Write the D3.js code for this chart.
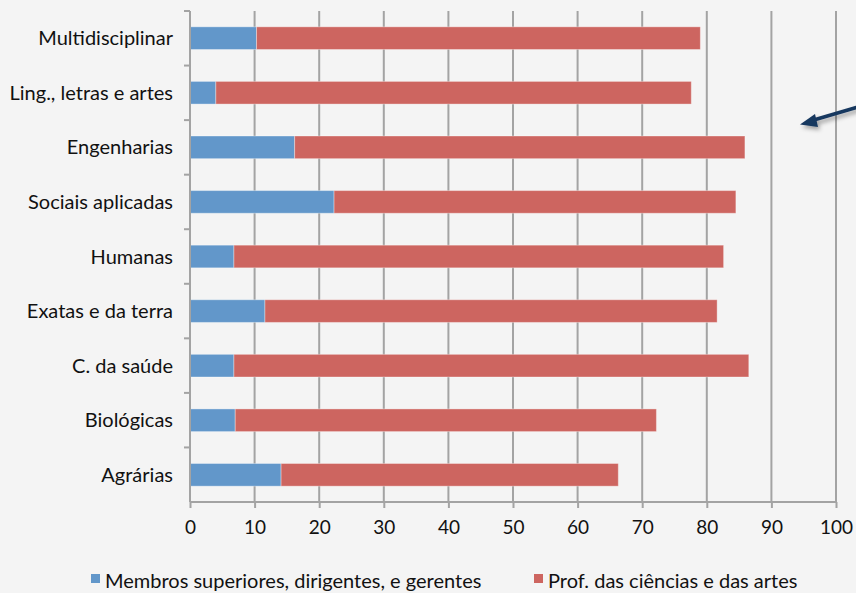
<html>
<meta charset="utf-8">
<script src="https://cdn.jsdelivr.net/npm/d3@7"></script>
<style>
body{ margin:0; background:#f4f4f4; }
.grid line{ stroke:#a3a3a3; stroke-width:2; }
.axis text{ font: 19px Lato, sans-serif; fill:#111; }
.axis text.cat{ font-size: 20px; }
.legend text{ font: 20px Lato, sans-serif; fill:#111; }
</style>
<body>
<div id="chart"></div>
<script>
var categories = ["Multidisciplinar","Ling., letras e artes","Engenharias","Sociais aplicadas","Humanas","Exatas e da terra","C. da saúde","Biológicas","Agrárias"];
var membros = [10.3, 4.0, 16.2, 22.3, 6.8, 11.6, 6.8, 7.0, 14.1];
var profs   = [68.7, 73.6, 69.7, 62.2, 75.8, 70.0, 79.7, 65.2, 52.2];
var seriesNames = ["Membros superiores, dirigentes, e gerentes","Prof. das ciências e das artes"];
var seriesCols = ["#6297ca","#cd6560"];
var xTicks = [0,10,20,30,40,50,60,70,80,90,100];

var W = 856, H = 593;
var m = {left:190, right:20, top:11, bottom:91};

var svg = d3.select("#chart").append("svg").attr("width",W).attr("height",H);

var x = d3.scaleLinear().domain([0,100]).range([m.left, W-m.right]);
var y = d3.scaleBand().domain(categories).range([m.top, H-m.bottom]).paddingInner(0.585).paddingOuter(0.29);
var yTicks = d3.scaleBand().domain(categories).range([m.top, H-m.bottom]);

// gridlines
svg.append("g").attr("class","grid").selectAll("line").data(xTicks.slice(1)).enter()
  .append("line")
  .attr("x1",function(d){return x(d)}).attr("x2",function(d){return x(d)})
  .attr("y1",m.top).attr("y2",H-m.bottom);

// stacked bars
var rows = categories.map(function(c,i){ return {cat:c, a:membros[i], b:profs[i]}; });
var stack = d3.stack().keys(["a","b"])(rows);
svg.append("g").selectAll("g").data(stack).enter().append("g")
  .attr("fill",function(d,i){return seriesCols[i]})
  .selectAll("rect").data(function(d){return d}).enter().append("rect")
  .attr("x",function(d){return x(d[0])})
  .attr("width",function(d){return x(d[1])-x(d[0])})
  .attr("y",function(d){return y(d.data.cat)})
  .attr("height",y.bandwidth())
  .attr("stroke","rgba(255,255,255,0.35)").attr("stroke-width",1);

// x axis
var xAxis = svg.append("g").attr("class","axis").attr("transform","translate(0,"+(H-m.bottom)+")")
  .call(d3.axisBottom(x).tickValues(xTicks).tickSize(6).tickPadding(13).tickFormat(d3.format("d")));
xAxis.select(".domain").attr("stroke","#a3a3a3").attr("stroke-width",2).attr("d","M"+x(0)+",0H"+x(100));
xAxis.selectAll(".tick line").attr("stroke","#a3a3a3").attr("stroke-width",2);

// y axis: ticks between categories
var yAx = svg.append("g").attr("class","axis");
yAx.append("line").attr("x1",x(0)).attr("x2",x(0)).attr("y1",m.top).attr("y2",H-m.bottom)
  .attr("stroke","#a3a3a3").attr("stroke-width",2);
yAx.selectAll(".yt").data(categories).enter().append("line")
  .attr("x1",x(0)-6).attr("x2",x(0))
  .attr("y1",function(d){return yTicks(d)}).attr("y2",function(d){return yTicks(d)})
  .attr("stroke","#a3a3a3").attr("stroke-width",2);
yAx.selectAll("text").data(categories).enter().append("text")
  .attr("class","cat")
  .attr("x",173).attr("y",function(d){return y(d)+y.bandwidth()/2})
  .attr("dy","0.35em").attr("text-anchor","end").text(function(d){return d});

// legend
var leg = svg.append("g").attr("class","legend");
var legX = [91, 534];
seriesNames.forEach(function(n,i){
  leg.append("rect").attr("x",legX[i]).attr("y",574).attr("width",9).attr("height",9).attr("fill",seriesCols[i]);
  leg.append("text").attr("x",legX[i]+14).attr("y",588).text(n);
});

// arrow annotation
var defs = svg.append("defs");
var f = defs.append("filter").attr("id","sh").attr("x","-50%").attr("y","-50%").attr("width","200%").attr("height","200%");
f.append("feDropShadow").attr("dx",2).attr("dy",3).attr("stdDeviation",2).attr("flood-color","#000").attr("flood-opacity",0.35);
var arrowPts = [[858,107],[812,120.5]];
var g = svg.append("g").attr("filter","url(#sh)");
g.append("line").attr("x1",arrowPts[0][0]).attr("y1",arrowPts[0][1]).attr("x2",arrowPts[1][0]).attr("y2",arrowPts[1][1])
  .attr("stroke","#17375e").attr("stroke-width",3.5);
g.append("path").attr("d","M800,124.5 L815,114 L818,127 Z").attr("fill","#17375e");
</script>
</body>
</html>
